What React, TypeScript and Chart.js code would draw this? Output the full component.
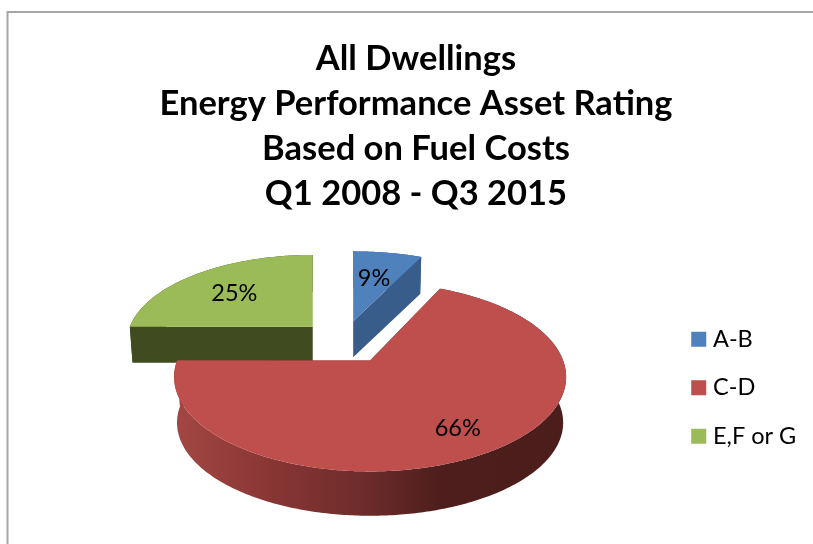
import React, { useEffect, useRef } from "react";
import { Chart, registerables } from "chart.js";

Chart.register(...registerables);

const titleLines = ["All Dwellings", "Energy Performance Asset Rating", "Based on Fuel Costs", "Q1 2008 - Q3 2015"];
const categories = ["A-B", "C-D", "E,F or G"];
const shares = [9, 66, 25];
const sliceColors = ["#4F81BD", "#BE4F4D", "#9BBB59"];

// Look of the tilted, exploded pie (style only; the geometry comes from the arc elements).
const PERSPECTIVE = 0.175;
const ANGLE_WARP = 8.4;
const EXPLODE = { x: 2, y: 1.02 };
const OFFSET_PX = 22;
const widthScale = [0.974, 1, 0.948];
const heightScale = [0.425, 0.4746, 0.438];
const sliceNudge = [[-7.6, -1], [0.4, -3], [-4.6, -1]];
const extrude = [36, 46, 36];
const DEPTH_SHRINK = 0.985;
const wallColors = ["#385D8A", "", "#404B20"];
const labelNudge = [[-6, 14], [22, -10], [0, 15]];
const drawOrder = [2, 0, 1];

const FONT = "Lato, Carlito, sans-serif";

function sliceGeometry(el: any, i: number) {
  const start = el.startAngle + Math.PI / 2;
  const end = el.endAngle + Math.PI / 2;
  const mid = (start + end) / 2;
  const off = el.options.offset || 0;
  const ax = el.x + Math.sin(mid) * off * EXPLODE.x + sliceNudge[i][0];
  const ay = el.y - Math.cos(mid) * off * EXPLODE.y + sliceNudge[i][1];
  const rx = el.outerRadius * widthScale[i];
  const ry = el.outerRadius * heightScale[i];
  const at = (theta: number, r: number) => {
    const t = theta - (ANGLE_WARP * Math.PI / 180) * Math.sin(2 * theta);
    const u = Math.sin(t) * r;
    const v = Math.cos(t) * r;
    const w = 1 + PERSPECTIVE * v;
    return { x: ax + (rx * u) / w, y: ay - (ry * v) / w };
  };
  const low = (p: { x: number; y: number }) => ({
    x: ax + (p.x - ax) * DEPTH_SHRINK,
    y: ay + (p.y - ay) * DEPTH_SHRINK + extrude[i],
  });
  const rim: { x: number; y: number }[] = [];
  const steps = Math.max(4, Math.round(((end - start) * 180) / Math.PI));
  for (let s = 0; s <= steps; s++) rim.push(at(start + ((end - start) * s) / steps, 1));
  return { start, end, mid, ax, ay, at, low, rim };
}

function polygon(ctx: CanvasRenderingContext2D, pts: { x: number; y: number }[]) {
  ctx.beginPath();
  pts.forEach((p, k) => (k ? ctx.lineTo(p.x, p.y) : ctx.moveTo(p.x, p.y)));
  ctx.closePath();
}

const pie3d = {
  id: "pie3d",
  beforeDraw(chart: any) {
    const { ctx, width, height } = chart;
    ctx.save();
    ctx.fillStyle = "#ffffff";
    ctx.fillRect(0, 0, width, height);
    ctx.strokeStyle = "#a6a6a6";
    ctx.lineWidth = 2;
    ctx.beginPath();
    ctx.moveTo(7.5, height);
    ctx.lineTo(7.5, 12);
    ctx.lineTo(width, 12);
    ctx.stroke();
    ctx.restore();
  },
  beforeDatasetDraw() {
    return false;
  },
  afterDatasetsDraw(chart: any) {
    const { ctx } = chart;
    const arcs = chart.getDatasetMeta(0).data;
    ctx.save();
    drawOrder.forEach((i) => {
      const g = sliceGeometry(arcs[i], i);
      const apex = { x: g.ax, y: g.ay };
      let side: any = wallColors[i];
      if (!side) {
        const xs = g.rim.map((p) => p.x);
        const lo = Math.min(...xs);
        const hi = Math.max(...xs);
        side = ctx.createLinearGradient(lo, 0, hi, 0);
        side.addColorStop(0, "#A34744");
        side.addColorStop(0.25, "#883634");
        side.addColorStop(0.5, "#6B2B2A");
        side.addColorStop(0.68, "#4D1E1C");
        side.addColorStop(1, "#4B1D1B");
      }
      ctx.fillStyle = side;
      polygon(ctx, [...g.rim, ...g.rim.map(g.low).reverse()]);
      ctx.fill();
      [g.rim[0], g.rim[g.rim.length - 1]].forEach((edge) => {
        polygon(ctx, [apex, edge, g.low(edge), g.low(apex)]);
        ctx.fill();
      });
      ctx.fillStyle = sliceColors[i];
      polygon(ctx, [apex, ...g.rim]);
      ctx.fill();
    });
    ctx.fillStyle = "#000000";
    ctx.font = `23.5px ${FONT}`;
    ctx.textAlign = "center";
    ctx.textBaseline = "middle";
    shares.forEach((v, i) => {
      const g = sliceGeometry(arcs[i], i);
      const p = g.at(g.mid, 0.8);
      ctx.fillText(`${v}%`, p.x + labelNudge[i][0], p.y + labelNudge[i][1]);
    });
    ctx.restore();
  },
};

export default function App() {
  const ref = useRef<HTMLCanvasElement>(null);
  useEffect(() => {
    const chart = new Chart(ref.current as HTMLCanvasElement, {
      type: "pie",
      data: {
        labels: categories,
        datasets: [
          {
            data: shares,
            backgroundColor: sliceColors,
            borderWidth: 0,
            offset: OFFSET_PX,
            radius: 193,
          } as any,
        ],
      },
      options: {
        responsive: false,
        animation: false,
        events: [],
        layout: { padding: { left: 25.75, right: 6.75, top: 0, bottom: 71 } },
        plugins: {
          title: {
            display: true,
            text: titleLines,
            color: "#000000",
            font: { family: FONT, size: 34.5, weight: "bold", lineHeight: 1.304 },
            padding: { top: 36, bottom: -1.5 },
          },
          legend: {
            display: true,
            position: "right",
            align: "end",
            labels: {
              usePointStyle: true,
              pointStyle: "rect",
              boxWidth: 5,
              boxHeight: 15,
              padding: 25,
              color: "#000000",
              font: { family: FONT, size: 23.5 },
            },
          },
          tooltip: { enabled: false },
        },
      } as any,
      plugins: [pie3d],
    });
    return () => chart.destroy();
  }, []);
  return (
    <canvas
      ref={ref}
      width={813}
      height={544}
      style={{ position: "absolute", left: 0, top: 0, display: "block" }}
    />
  );
}
